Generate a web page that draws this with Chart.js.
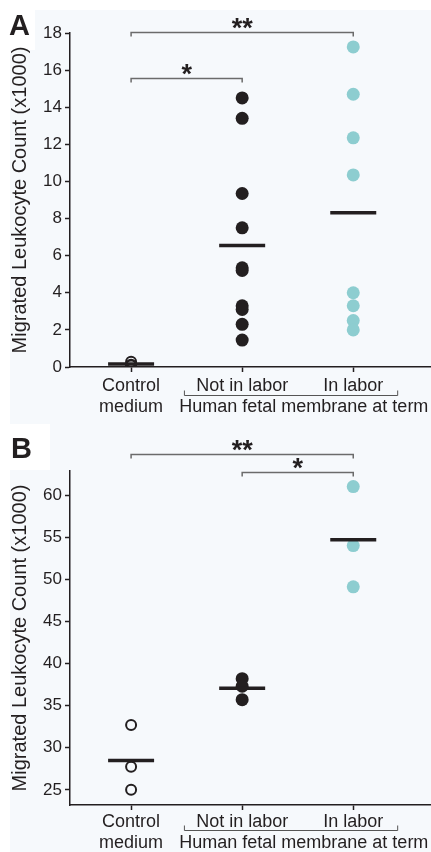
<!DOCTYPE html>
<html>
<head>
<meta charset="utf-8">
<script src="https://cdn.jsdelivr.net/npm/chart.js@4.4.1/dist/chart.umd.min.js"></script>
<style>
    body { margin: 0; width: 431px; height: 852px; position: relative; overflow: hidden; background: #fff; }
    .tint { position: absolute; left: 10px; top: 10px; right: 0; bottom: 0; background: #f6f9fc; }
    .blank { position: absolute; background: #fff; }
    canvas { position: absolute; left: 0; }
    #panelA { top: 0; }
    #panelB { top: 420px; }
</style>
</head>
<body>
<div class="tint"></div>
<div class="blank" style="left:0;top:0;width:35px;height:50px"></div>
<div class="blank" style="left:0;top:424px;width:50px;height:46px"></div>
<canvas id="panelA" width="431" height="420"></canvas>
<canvas id="panelB" width="431" height="432"></canvas>
<script>
const groupLabels = [['Control', 'medium'], 'Not in labor', 'In labor'];
const groupNote = 'Human fetal membrane at term';
const yTitle = 'Migrated Leukocyte Count (x1000)';

// panel A, counts x1000
const ticksA = [0, 2, 4, 6, 8, 10, 12, 14, 16, 18];
const controlA = [0.28, 0.12, 0.08];
const notLaborA = [14.5, 13.4, 9.35, 7.5, 5.35, 5.2, 3.3, 3.1, 2.3, 1.45];
const laborA = [17.25, 14.7, 12.35, 10.35, 4.0, 3.3, 2.5, 2.0];
const sigA = [
    { from: 0, to: 2, label: '**' },
    { from: 0, to: 1, label: '*' }
];

// panel B, counts x1000
const ticksB = [25, 30, 35, 40, 45, 50, 55, 60];
const controlB = [32.7, 27.75, 25.0];
const notLaborB = [38.2, 37.3, 35.7];
const laborB = [61.0, 54.0, 49.1];
const sigB = [
    { from: 0, to: 2, label: '**' },
    { from: 1, to: 2, label: '*' }
];

const ink = '#231f20';
const teal = '#8dcdd0';
const fontFamily = 'Arial, "Liberation Sans", Helvetica, sans-serif';

const mean = arr => arr.reduce((s, v) => s + v, 0) / arr.length;
const atGroup = (arr, i) => arr.map(y => ({ x: i, y: y }));

// panel letter, significance brackets and the group bracket under the axis
const decorations = {
    id: 'decorations',
    afterDraw(chart, args, opts) {
        const ctx = chart.ctx;
        const xs = chart.scales.x, ys = chart.scales.y;
        ctx.save();
        ctx.fillStyle = ink;
        ctx.font = 'bold 29px ' + fontFamily;
        ctx.textAlign = 'left';
        ctx.textBaseline = 'alphabetic';
        ctx.fillText(opts.letter, opts.letterX, opts.letterY);

        ctx.strokeStyle = '#6b6b6b';
        ctx.lineWidth = 1.5;
        ctx.font = 'bold 27px ' + fontFamily;
        ctx.textAlign = 'center';
        opts.sig.forEach((s, i) => {
            const y = Math.round(ys.getPixelForValue(opts.sigLevels[i])) + 0.5;
            const x0 = xs.getPixelForValue(s.from), x1 = xs.getPixelForValue(s.to);
            ctx.beginPath();
            ctx.moveTo(x0, y + 4); ctx.lineTo(x0, y); ctx.lineTo(x1, y); ctx.lineTo(x1, y + 4);
            ctx.stroke();
            ctx.fillText(s.label, (x0 + x1) / 2, y + 4);
        });

        const axisY = xs.top;
        const by = Math.round(axisY + opts.bracketGap) + 0.5;
        const bx0 = xs.getPixelForValue(0.48), bx1 = xs.getPixelForValue(2.4);
        ctx.strokeStyle = '#555';
        ctx.lineWidth = 1;
        ctx.beginPath();
        ctx.moveTo(bx0, by - 5); ctx.lineTo(bx0, by); ctx.lineTo(bx1, by); ctx.lineTo(bx1, by - 5);
        ctx.stroke();
        ctx.font = '18px ' + fontFamily;
        ctx.textBaseline = 'middle';
        ctx.fillText(groupNote, xs.getPixelForValue(1.555), axisY + opts.noteGap);
        ctx.restore();
    }
};

function makePanel(id, p) {
    return new Chart(document.getElementById(id), {
        type: 'scatter',
        data: {
            datasets: [
                {
                    data: [p.control, p.notLabor, p.labor].map((g, i) => ({ x: i, y: mean(g) })),
                    pointStyle: 'line', pointRadius: 23, borderWidth: 3.5,
                    borderColor: ink
                },
                {
                    data: atGroup(p.control, 0),
                    pointRadius: 5, borderWidth: 2,
                    borderColor: ink, backgroundColor: 'rgba(0,0,0,0)'
                },
                {
                    data: atGroup(p.notLabor, 1),
                    pointRadius: 6.5, borderWidth: 0,
                    backgroundColor: ink, borderColor: ink
                },
                {
                    data: atGroup(p.labor, 2),
                    pointRadius: 6.5, borderWidth: 0,
                    backgroundColor: teal, borderColor: teal
                }
            ]
        },
        options: {
            responsive: false,
            animation: false,
            events: [],
            layout: { autoPadding: false, padding: { top: p.top, left: 0, right: 0, bottom: 0 } },
            plugins: {
                legend: { display: false },
                tooltip: { enabled: false },
                decorations: {
                    letter: p.letter, letterX: p.letterX, letterY: p.letterY,
                    sig: p.sig, sigLevels: p.sigLevels,
                    bracketGap: p.bracketGap, noteGap: p.noteGap
                }
            },
            scales: {
                x: {
                    type: 'linear', min: -0.55, max: 2.7,
                    afterBuildTicks: s => { s.ticks = [0, 1, 2].map(v => ({ value: v })); },
                    afterFit: s => {
                        s.height = p.xHeight;
                        s.paddingLeft = 0;
                        s.paddingRight = 0;
                    },
                    ticks: {
                        callback: v => groupLabels[v],
                        color: ink, padding: p.labelPad,
                        font: { family: fontFamily, size: 18, lineHeight: 1.2 },
                        maxRotation: 0, autoSkip: false
                    },
                    grid: { drawOnChartArea: false, tickLength: 5, tickColor: ink, tickWidth: 1.5 },
                    border: { color: ink, width: 1.5 }
                },
                y: {
                    min: p.min, max: p.max,
                    afterBuildTicks: s => { s.ticks = p.ticks.map(v => ({ value: v })); },
                    afterFit: s => {
                        s.width = 70;
                        s.paddingTop = 0;
                        s.paddingBottom = 0;
                    },
                    ticks: {
                        color: ink, padding: 3,
                        font: { family: fontFamily, size: 17 }
                    },
                    grid: { drawOnChartArea: false, tickLength: 5, tickColor: ink, tickWidth: 1.5 },
                    border: { color: ink, width: 1.5 },
                    title: {
                        display: true, text: yTitle, color: ink,
                        font: { family: fontFamily, size: 20, lineHeight: 1.2 },
                        padding: { top: 8, bottom: 0 }
                    }
                }
            }
        },
        plugins: [decorations]
    });
}

makePanel('panelA', {
    letter: 'A', letterX: 9, letterY: 35,
    control: controlA, notLabor: notLaborA, labor: laborA,
    ticks: ticksA, min: 0, max: 18,
    sig: sigA, sigLevels: [18.05, 15.57],
    top: 33, xHeight: 53, labelPad: 3, bracketGap: 28, noteGap: 40
});

makePanel('panelB', {
    letter: 'B', letterX: 11, letterY: 38,
    control: controlB, notLabor: notLaborB, labor: laborB,
    ticks: ticksB, min: 23.2, max: 62.85,
    sig: sigB, sigLevels: [64.9, 62.73],
    top: 51, xHeight: 47, labelPad: 1, bracketGap: 25, noteGap: 38
});
</script>
</body>
</html>
